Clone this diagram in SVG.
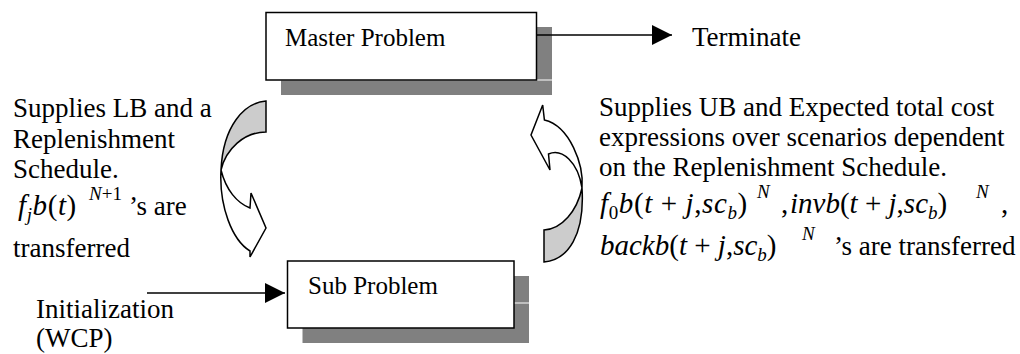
<svg xmlns="http://www.w3.org/2000/svg" width="1020" height="354" viewBox="0 0 1020 354">
<defs>
<style>
text{font-family:"Liberation Serif","Times New Roman",serif;fill:#000}
.t{font-size:27px}
.bx{font-size:25px}
.m{font-size:29px}
.i{font-style:italic}
.s{font-size:19px}
.box{fill:#fff;stroke:#000;stroke-width:1.5}
.sh{fill:#808080}
.ln{stroke:#000;stroke-width:1.5;fill:none}
.band{stroke:#000;stroke-width:1.5;stroke-linejoin:miter}
.g{fill:#cccccc}
.w{fill:#ffffff}
</style>
<marker id="ah" markerUnits="userSpaceOnUse" markerWidth="20" markerHeight="20" viewBox="0 0 20 20" refX="20" refY="10" orient="auto"><path d="M0,0L20,10L0,20Z" fill="#000"/></marker>
</defs>
<rect width="1020" height="354" fill="#fff"/>

<g id="master">
<rect class="sh" x="537" y="27" width="15" height="52.5"/>
<rect class="sh" x="281" y="80.5" width="271" height="14.5"/>
<rect class="box" x="266" y="12.5" width="270.5" height="67.5"/>
<text class="bx" x="285" y="46">Master Problem</text>
</g>

<g id="sub">
<rect class="sh" x="514" y="276" width="15" height="26.5"/>
<rect class="sh" x="302.5" y="303.5" width="226.5" height="39.5"/>
<rect class="box" x="287.5" y="261" width="226.5" height="67"/>
<text class="bx" x="308" y="294">Sub Problem</text>
</g>

<g id="terminate">
<text class="t" x="692" y="46">Terminate</text>
</g>

<g id="initialization">
<text class="t" x="36" y="318">Initialization</text>
<text class="t" x="36" y="347">(WCP)</text>
</g>

<g id="connectors">
<line class="ln" x1="537" y1="35" x2="672" y2="35" marker-end="url(#ah)"/>
<line class="ln" x1="147" y1="293" x2="285" y2="293" marker-end="url(#ah)"/>
<path class="band g" d="M266,101 C244,103 223,126 221,170 C226,149 244,132 266,132 Z"/>
<path class="band w" d="M221,170 C219,206 232,240 250,251 L250,257 L266,228 L251,193 L250,208 C237,203 226,190 221,170 Z"/>
<path class="band g" d="M544,262 C568,260 585,235 582,188 C577,211 562,229 544,230 Z"/>
<path class="band w" d="M582,188 C584,165 570,126 544.4,120 L542.7,105 L531,135 L550,170 L548.5,154 C562,148 578,162 582,188 Z"/>
</g>

<g id="left-label">
<text class="t" x="13" y="117">Supplies LB and a</text>
<text class="t" x="13" y="148">Replenishment</text>
<text class="t" x="13" y="178">Schedule.</text>
<text class="m" x="18" y="215" style="letter-spacing:0.6px"><tspan class="i">f</tspan><tspan class="i s" dy="6">j</tspan><tspan class="i" dy="-6">b</tspan>(<tspan class="i">t</tspan>)</text>
<text class="s" x="89" y="200"><tspan class="i">N</tspan>+1</text>
<text class="t" x="129" y="215">’s are</text>
<text class="t" x="13" y="257">transferred</text>
</g>

<g id="right-label">
<text class="t" x="599" y="116">Supplies UB and Expected total cost</text>
<text class="t" x="599" y="146">expressions over scenarios dependent</text>
<text class="t" x="599" y="176">on the Replenishment Schedule.</text>
<text class="m" x="600" y="213" style="letter-spacing:0.6px"><tspan class="i">f</tspan><tspan class="s" dy="6">0</tspan><tspan class="i" dy="-6">b</tspan>(<tspan class="i">t</tspan> + <tspan class="i">j</tspan>,<tspan class="i">sc</tspan><tspan class="i s" dy="6">b</tspan><tspan dy="-6">)</tspan></text>
<text class="s i" x="757" y="198">N</text>
<text class="m" x="781" y="213">,</text>
<text class="m" x="790" y="213"><tspan class="i">invb</tspan>(<tspan class="i">t</tspan> + <tspan class="i">j</tspan>,<tspan class="i">sc</tspan><tspan class="i s" dy="6">b</tspan><tspan dy="-6">)</tspan></text>
<text class="s i" x="976" y="198">N</text>
<text class="m" x="1001" y="213">,</text>
<text class="m" x="600" y="255"><tspan class="i">backb</tspan>(<tspan class="i">t</tspan> + <tspan class="i">j</tspan>,<tspan class="i">sc</tspan><tspan class="i s" dy="6">b</tspan><tspan dy="-6">)</tspan></text>
<text class="s i" x="802" y="240">N</text>
<text class="t" x="834" y="255">’s are transferred</text>
</g>
</svg>
